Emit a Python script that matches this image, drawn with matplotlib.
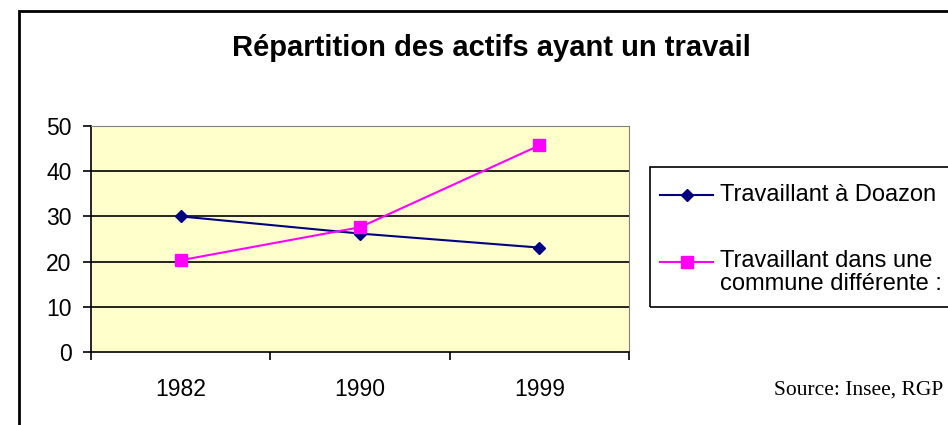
import matplotlib.pyplot as plt
from matplotlib.patches import Rectangle
from matplotlib.lines import Line2D

# data
years = ["1982", "1990", "1999"]
doazon = [30, 26.2, 23.1]
autre = [20.3, 27.6, 45.7]
yticks = [0, 10, 20, 30, 40, 50]
labels = ["Travaillant à Doazon", "Travaillant dans une\ncommune différente :"]

plt.rcParams['font.family'] = ['Liberation Sans', 'DejaVu Sans']

W, H = 948, 425
fig = plt.figure(figsize=(W / 100, H / 100), dpi=100)

# outer frame (runs past right and bottom edges like the original)
fig.add_artist(Rectangle((19 / W, -0.2), 1.0, 1.2 - 11 / H, transform=fig.transFigure,
                         fill=False, edgecolor='black', linewidth=2))

ax = fig.add_axes([91 / W, 1 - 352 / H, (629 - 91) / W, (352 - 126) / H])
ax.set_facecolor('#FFFFCC')

x = [i + 0.5 for i in range(len(years))]
ax.plot(x, doazon, color='#000080', marker='D', markersize=6.5, linewidth=1.5, zorder=3)
ax.plot(x, autre, color='#FF00FF', marker='s', markersize=8.5, linewidth=1.5, zorder=3)

ax.set_xlim(0, 3)
ax.set_ylim(0, 50)
ax.set_yticks(yticks)
ax.set_yticklabels([str(v) for v in yticks], fontsize=16.5)
ax.set_xticks([0, 1, 2, 3])
ax.set_xticklabels([])
ax.set_xticks(x, minor=True)
ax.set_xticklabels(years, minor=True, fontsize=16.5)
ax.tick_params(axis='x', which='minor', length=0, pad=19)
ax.tick_params(axis='x', which='major', direction='out', length=6, width=1.2)
ax.tick_params(axis='y', direction='out', length=6, width=1.2, pad=8)

for v in yticks[1:-1]:
    ax.axhline(v, color='black', linewidth=1.2, zorder=1)

ax.spines['left'].set_linewidth(1.2)
ax.spines['bottom'].set_linewidth(1.2)
ax.spines['top'].set_color('#808080')
ax.spines['right'].set_color('#808080')

fig.text(491 / W, 1 - 48 / H, "Répartition des actifs ayant un travail", ha='center', va='center',
         fontsize=21, fontweight='bold')

# legend box, drawn by hand so the handle sits on the first line of the wrapped label
fig.add_artist(Rectangle((650 / W, 1 - 307 / H), 1.0, (307 - 167) / H, transform=fig.transFigure,
                         fill=False, edgecolor='black', linewidth=1.2))
fig.add_artist(Line2D([660 / W, 713 / W], [1 - 195 / H] * 2, transform=fig.transFigure,
                      color='#000080', linewidth=1.5))
fig.add_artist(Line2D([687 / W], [1 - 195 / H], transform=fig.transFigure,
                      color='#000080', marker='D', markersize=6.5, linestyle='none'))
fig.add_artist(Line2D([660 / W, 713 / W], [1 - 262 / H] * 2, transform=fig.transFigure,
                      color='#FF00FF', linewidth=1.5))
fig.add_artist(Line2D([687 / W], [1 - 262 / H], transform=fig.transFigure,
                      color='#FF00FF', marker='s', markersize=8.5, linestyle='none'))
fig.text(720 / W, 1 - 195 / H, labels[0], ha='left', va='center', fontsize=17)
fig.text(720 / W, 1 - 250 / H, labels[1], ha='left', va='top', fontsize=17,
         linespacing=1.05)

fig.text(943 / W, 1 - 390 / H, "Source: Insee, RGP", ha='right', va='center',
         fontsize=15.5, family='Liberation Serif')

fig.savefig('out.png', dpi=100)
